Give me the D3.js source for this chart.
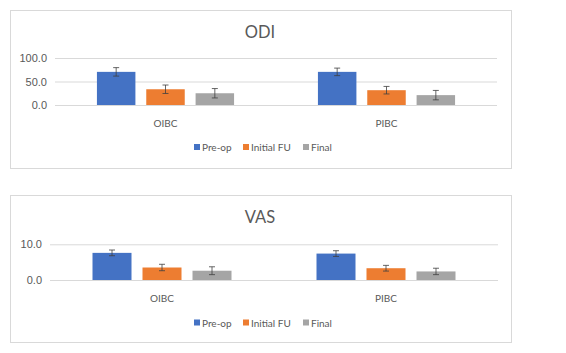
<!DOCTYPE html>
<html><head><meta charset="utf-8">
<script src="https://cdn.jsdelivr.net/npm/d3@7"></script>
<style>body{margin:0;background:#fff;} svg{display:block;font-family:Lato,"Open Sans",sans-serif;}</style>
</head><body><svg id="c" width="566" height="353"></svg>
<script>
const categories = ["OIBC", "PIBC"];
const series = ["Pre-op", "Initial FU", "Final"];
const colors = ["#4472C4", "#ED7D31", "#A5A5A5"];
// ODI values [category][series]
const odiValues = [[70.5, 33.5, 25.0], [70.5, 31.5, 21.0]];
const odiErrors = [[9, 9, 10], [8, 8, 10]];
const odiTicks = [0, 50, 100];
// VAS values
const vasValues = [[7.6, 3.5, 2.6], [7.4, 3.3, 2.4]];
const vasErrors = [[0.8, 0.9, 1.1], [0.8, 0.8, 0.9]];
const vasTicks = [0, 10];

const svg = d3.select("#c");
const textCol = "#595959";

function panel(cfg) {
  const g = svg.append("g");
  g.append("rect").attr("x", 10.5).attr("y", cfg.top + 0.5).attr("width", 501).attr("height", cfg.h)
    .attr("fill", "#fff").attr("stroke", "#D9D9D9");
  g.append("text").attr("x", 260).attr("y", cfg.titleY).attr("text-anchor", "middle")
    .attr("dominant-baseline", "central").attr("font-size", 16.5).attr("fill", textCol).text(cfg.title);
  const x0 = d3.scaleBand().domain(categories).range(cfg.xr);
  const x1 = d3.scaleBand().domain(series).range([0, x0.bandwidth()]).paddingInner(0.22).paddingOuter(0.85);
  const y = d3.scaleLinear().domain(cfg.domain).range(cfg.yr);
  const ax = d3.axisLeft(y).tickValues(cfg.ticks).tickFormat(d3.format(".1f")).tickSize(-(cfg.xr[1] - cfg.xr[0])).tickPadding(8);
  const ag = g.append("g").attr("transform", `translate(${cfg.xr[0]},0)`).call(ax);
  ag.select(".domain").remove();
  ag.selectAll(".tick line").attr("stroke", "#D9D9D9");
  ag.selectAll(".tick text").attr("fill", textCol).attr("font-size", 11);
  categories.forEach((c, ci) => {
    series.forEach((s, si) => {
      const v = cfg.values[ci][si], e = cfg.errors[ci][si];
      const bx = x0(c) + x1(s);
      g.append("rect").attr("x", bx).attr("y", y(v)).attr("width", x1.bandwidth())
        .attr("height", y(0) - y(v)).attr("fill", colors[si]);
      const cx = bx + x1.bandwidth() / 2;
      const eg = g.append("g").attr("stroke", "#404040").attr("stroke-width", 0.8);
      eg.append("line").attr("x1", cx).attr("x2", cx).attr("y1", y(v - e)).attr("y2", y(v + e));
      eg.append("line").attr("x1", cx - 3).attr("x2", cx + 3).attr("y1", y(v + e)).attr("y2", y(v + e));
      eg.append("line").attr("x1", cx - 3).attr("x2", cx + 3).attr("y1", y(v - e)).attr("y2", y(v - e));
    });
    g.append("text").attr("x", x0(c) + x0.bandwidth() / 2).attr("y", y(0) + 18)
      .attr("text-anchor", "middle").attr("dominant-baseline", "central").attr("font-size", 10)
      .attr("fill", textCol).text(c);
  });
  const lx = [194, 243, 303];
  series.forEach((s, si) => {
    g.append("rect").attr("x", lx[si]).attr("y", cfg.legY - 3).attr("width", 6).attr("height", 6).attr("fill", colors[si]);
    g.append("text").attr("x", lx[si] + 8).attr("y", cfg.legY).attr("dominant-baseline", "central")
      .attr("font-size", 10).attr("fill", textCol).text(s);
  });
}

panel({top: 10, h: 158, title: "ODI", titleY: 32, xr: [55, 497], yr: [105, 58], domain: [0, 100],
  ticks: odiTicks, values: odiValues, errors: odiErrors, legY: 147});
panel({top: 195, h: 147, title: "VAS", titleY: 217, xr: [50, 498], yr: [280, 244.3], domain: [0, 10],
  ticks: vasTicks, values: vasValues, errors: vasErrors, legY: 322.5});
</script></body></html>
